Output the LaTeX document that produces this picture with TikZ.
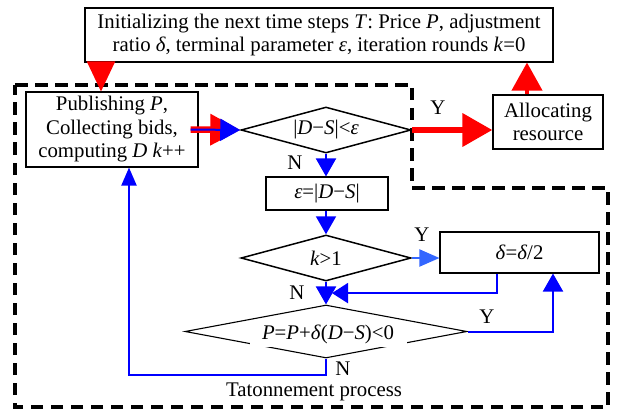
\documentclass[tikz,border=0pt]{standalone}
\usepackage{fontspec}
\setmainfont{Liberation Serif}
\usetikzlibrary{arrows.meta,shapes.geometric,calc}
\definecolor{pblue}{RGB}{0,0,255}
\definecolor{lblue}{RGB}{51,102,255}
\definecolor{pred}{RGB}{255,0,0}
\newcommand{\mi}[1]{\textit{#1}}
\begin{document}
\begin{tikzpicture}[x=1pt,y=-1pt,
  every node/.style={font=\fontsize{20.8}{23.5}\selectfont},
  box/.style={draw,line width=1.1pt,inner sep=0pt,align=center},
  dia/.style={draw,diamond,inner sep=0pt,line width=1.5pt,aspect=3.7},
  lbl/.style={inner sep=0pt},
  region/.style={draw,line width=4pt,dash pattern=on 12.5pt off 7.5pt},
  barr/.style={draw=pblue,line width=2pt,-{Triangle[length=18pt,width=20pt]}},
  rarr/.style={draw=pred,-{Triangle[length=30pt,width=30pt]}},
]
\useasboundingbox (0,0) rectangle (618,409);

% dashed region
\draw[region] (15,85) -- (412,85) -- (412,188) -- (608,188) -- (608,407) -- (15,407) -- cycle;

% nodes
\node[box,minimum width=468,minimum height=54] (init) at (319,35)
  {Initializing the next time steps \mi{T}: Price \mi{P}, adjustment\\
   ratio \mi{δ}, terminal parameter \mi{ε}, iteration rounds \mi{k}=0};
\node[box,fill=white,minimum width=172,minimum height=75] (pub) at (112,129.5)
  {Publishing \mi{P},\\Collecting bids,\\computing \mi{D} \mi{k}++};
\node[box,minimum width=110,minimum height=54] (alloc) at (548,122)
  {Allocating\\resource};
\node[dia,minimum width=170,minimum height=46] (d1) at (326,130)
  {|\mi{D}−\mi{S}|<\mi{ε}};
\node[box,minimum width=122,minimum height=33] (eps) at (327,193.5)
  {\mi{ε}=|\mi{D}−\mi{S}|};
\node[dia,minimum width=170,minimum height=46] (d2) at (326,258)
  {\mi{k}>1};
\node[box,minimum width=159,minimum height=41] (half) at (519.5,252.5)
  {\mi{δ}=\mi{δ}/2};
\node[dia,line width=1.1pt,minimum width=282,minimum height=53,aspect=5.3] (d3) at (326,331.5) {};
\node[fill=white,inner sep=0pt,minimum width=157,minimum height=25] (d3t) at (328,334.5)
  {\mi{P}=\mi{P}+\mi{δ}(\mi{D}−\mi{S})<0};

% labels
\node[lbl] (y1) at (438,108) {Y};
\node[lbl] (n1) at (295,163) {N};
\node[lbl] (y2) at (422,235) {Y};
\node[lbl] (n2) at (297,293) {N};
\node[lbl] (y3) at (487,317) {Y};
\node[lbl] (n3) at (343,369) {N};
\node[lbl] (tat) at (314,392) {Tatonnement process};

% helper coordinates
\coordinate (a1) at ([xshift=-11pt]pub.north);
\coordinate (a2) at ([xshift=-21pt]alloc.north);
\coordinate (a3) at ([xshift=-8pt]pub.east);
\coordinate (a4) at ([xshift=-22.5pt]half.south);
\coordinate (a5) at ([xshift=33.5pt]half.south);
\coordinate (a6) at ([xshift=17pt]pub.south);
\coordinate (m) at ($(d2.south)!0.5!(d3.north)$);
\coordinate (a7) at ([xshift=-2pt,yshift=-16pt]d3.south);

% connectors
\draw[rarr,line width=2pt,-{Triangle[length=30pt,width=28pt]}] (a1 |- init.south) -- (a1);
\draw[rarr,line width=6.5pt] (a3) -- (d1.west);
\draw[barr,-{Triangle[length=20pt,width=22pt]}] (a3) -- (d1.west);
\draw[rarr,line width=6.5pt,-{Triangle[length=30pt,width=32pt]}] (d1.east) -- (d1.east -| alloc.west);
\draw[rarr,line width=4pt,-{Triangle[length=28pt,width=30pt]}] (a2) -- (a2 |- init.south);
\draw[barr] (d1.south) -- (d1.south |- eps.north);
\draw[barr] (eps.south -| d2.north) -- (d2.north);
\draw[barr,draw=lblue,-{Triangle[length=20pt,width=17pt]}] (d2.east) -- (d2.east -| half.west);
\draw[barr,-{Triangle[length=16pt,width=20pt]}] (a4) |- ([xshift=6pt]m);
\draw[barr] (d2.south) -- (d3.north);
\draw[barr] (d3.east) -| (a5);
\draw[barr,-{Triangle[length=18pt,width=15pt]}] (d3.south) -- (d3.south |- a7) -| (a6);
\end{tikzpicture}
\end{document}
